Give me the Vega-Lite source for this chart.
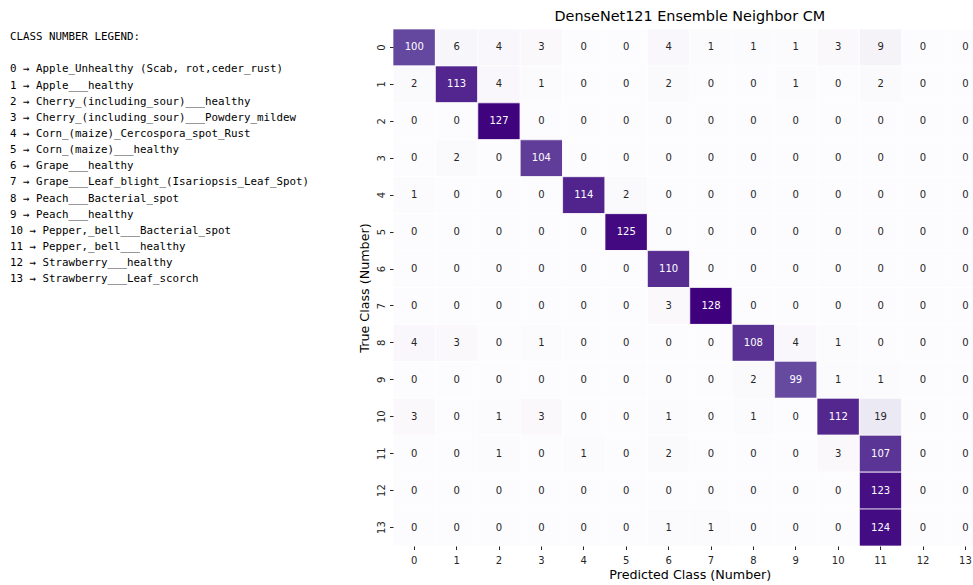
{
  "$schema": "https://vega.github.io/schema/vega-lite/v6.json",
  "padding": {"left": 10, "top": 9, "right": 0, "bottom": 0},
  "background": "white",
  "config": {
    "view": {"stroke": null},
    "font": "DejaVu Sans",
    "concat": {"spacing": 0}
  },
  "datasets": {
    "legend": [
      {"line": 0, "text": "CLASS NUMBER LEGEND:"},
      {"line": 1, "text": ""},
      {"line": 2, "text": "0 → Apple_Unhealthy (Scab, rot,ceder_rust)"},
      {"line": 3, "text": "1 → Apple___healthy"},
      {"line": 4, "text": "2 → Cherry_(including_sour)___healthy"},
      {"line": 5, "text": "3 → Cherry_(including_sour)___Powdery_mildew"},
      {"line": 6, "text": "4 → Corn_(maize)_Cercospora_spot_Rust"},
      {"line": 7, "text": "5 → Corn_(maize)___healthy"},
      {"line": 8, "text": "6 → Grape___healthy"},
      {"line": 9, "text": "7 → Grape___Leaf_blight_(Isariopsis_Leaf_Spot)"},
      {"line": 10, "text": "8 → Peach___Bacterial_spot"},
      {"line": 11, "text": "9 → Peach___healthy"},
      {"line": 12, "text": "10 → Pepper,_bell___Bacterial_spot"},
      {"line": 13, "text": "11 → Pepper,_bell___healthy"},
      {"line": 14, "text": "12 → Strawberry___healthy"},
      {"line": 15, "text": "13 → Strawberry___Leaf_scorch"}
    ],
    "cm": [
      {"t":0,"p":0,"v":100},{"t":0,"p":1,"v":6},{"t":0,"p":2,"v":4},{"t":0,"p":3,"v":3},{"t":0,"p":4,"v":0},{"t":0,"p":5,"v":0},{"t":0,"p":6,"v":4},{"t":0,"p":7,"v":1},{"t":0,"p":8,"v":1},{"t":0,"p":9,"v":1},{"t":0,"p":10,"v":3},{"t":0,"p":11,"v":9},{"t":0,"p":12,"v":0},{"t":0,"p":13,"v":0},
      {"t":1,"p":0,"v":2},{"t":1,"p":1,"v":113},{"t":1,"p":2,"v":4},{"t":1,"p":3,"v":1},{"t":1,"p":4,"v":0},{"t":1,"p":5,"v":0},{"t":1,"p":6,"v":2},{"t":1,"p":7,"v":0},{"t":1,"p":8,"v":0},{"t":1,"p":9,"v":1},{"t":1,"p":10,"v":0},{"t":1,"p":11,"v":2},{"t":1,"p":12,"v":0},{"t":1,"p":13,"v":0},
      {"t":2,"p":0,"v":0},{"t":2,"p":1,"v":0},{"t":2,"p":2,"v":127},{"t":2,"p":3,"v":0},{"t":2,"p":4,"v":0},{"t":2,"p":5,"v":0},{"t":2,"p":6,"v":0},{"t":2,"p":7,"v":0},{"t":2,"p":8,"v":0},{"t":2,"p":9,"v":0},{"t":2,"p":10,"v":0},{"t":2,"p":11,"v":0},{"t":2,"p":12,"v":0},{"t":2,"p":13,"v":0},
      {"t":3,"p":0,"v":0},{"t":3,"p":1,"v":2},{"t":3,"p":2,"v":0},{"t":3,"p":3,"v":104},{"t":3,"p":4,"v":0},{"t":3,"p":5,"v":0},{"t":3,"p":6,"v":0},{"t":3,"p":7,"v":0},{"t":3,"p":8,"v":0},{"t":3,"p":9,"v":0},{"t":3,"p":10,"v":0},{"t":3,"p":11,"v":0},{"t":3,"p":12,"v":0},{"t":3,"p":13,"v":0},
      {"t":4,"p":0,"v":1},{"t":4,"p":1,"v":0},{"t":4,"p":2,"v":0},{"t":4,"p":3,"v":0},{"t":4,"p":4,"v":114},{"t":4,"p":5,"v":2},{"t":4,"p":6,"v":0},{"t":4,"p":7,"v":0},{"t":4,"p":8,"v":0},{"t":4,"p":9,"v":0},{"t":4,"p":10,"v":0},{"t":4,"p":11,"v":0},{"t":4,"p":12,"v":0},{"t":4,"p":13,"v":0},
      {"t":5,"p":0,"v":0},{"t":5,"p":1,"v":0},{"t":5,"p":2,"v":0},{"t":5,"p":3,"v":0},{"t":5,"p":4,"v":0},{"t":5,"p":5,"v":125},{"t":5,"p":6,"v":0},{"t":5,"p":7,"v":0},{"t":5,"p":8,"v":0},{"t":5,"p":9,"v":0},{"t":5,"p":10,"v":0},{"t":5,"p":11,"v":0},{"t":5,"p":12,"v":0},{"t":5,"p":13,"v":0},
      {"t":6,"p":0,"v":0},{"t":6,"p":1,"v":0},{"t":6,"p":2,"v":0},{"t":6,"p":3,"v":0},{"t":6,"p":4,"v":0},{"t":6,"p":5,"v":0},{"t":6,"p":6,"v":110},{"t":6,"p":7,"v":0},{"t":6,"p":8,"v":0},{"t":6,"p":9,"v":0},{"t":6,"p":10,"v":0},{"t":6,"p":11,"v":0},{"t":6,"p":12,"v":0},{"t":6,"p":13,"v":0},
      {"t":7,"p":0,"v":0},{"t":7,"p":1,"v":0},{"t":7,"p":2,"v":0},{"t":7,"p":3,"v":0},{"t":7,"p":4,"v":0},{"t":7,"p":5,"v":0},{"t":7,"p":6,"v":3},{"t":7,"p":7,"v":128},{"t":7,"p":8,"v":0},{"t":7,"p":9,"v":0},{"t":7,"p":10,"v":0},{"t":7,"p":11,"v":0},{"t":7,"p":12,"v":0},{"t":7,"p":13,"v":0},
      {"t":8,"p":0,"v":4},{"t":8,"p":1,"v":3},{"t":8,"p":2,"v":0},{"t":8,"p":3,"v":1},{"t":8,"p":4,"v":0},{"t":8,"p":5,"v":0},{"t":8,"p":6,"v":0},{"t":8,"p":7,"v":0},{"t":8,"p":8,"v":108},{"t":8,"p":9,"v":4},{"t":8,"p":10,"v":1},{"t":8,"p":11,"v":0},{"t":8,"p":12,"v":0},{"t":8,"p":13,"v":0},
      {"t":9,"p":0,"v":0},{"t":9,"p":1,"v":0},{"t":9,"p":2,"v":0},{"t":9,"p":3,"v":0},{"t":9,"p":4,"v":0},{"t":9,"p":5,"v":0},{"t":9,"p":6,"v":0},{"t":9,"p":7,"v":0},{"t":9,"p":8,"v":2},{"t":9,"p":9,"v":99},{"t":9,"p":10,"v":1},{"t":9,"p":11,"v":1},{"t":9,"p":12,"v":0},{"t":9,"p":13,"v":0},
      {"t":10,"p":0,"v":3},{"t":10,"p":1,"v":0},{"t":10,"p":2,"v":1},{"t":10,"p":3,"v":3},{"t":10,"p":4,"v":0},{"t":10,"p":5,"v":0},{"t":10,"p":6,"v":1},{"t":10,"p":7,"v":0},{"t":10,"p":8,"v":1},{"t":10,"p":9,"v":0},{"t":10,"p":10,"v":112},{"t":10,"p":11,"v":19},{"t":10,"p":12,"v":0},{"t":10,"p":13,"v":0},
      {"t":11,"p":0,"v":0},{"t":11,"p":1,"v":0},{"t":11,"p":2,"v":1},{"t":11,"p":3,"v":0},{"t":11,"p":4,"v":1},{"t":11,"p":5,"v":0},{"t":11,"p":6,"v":2},{"t":11,"p":7,"v":0},{"t":11,"p":8,"v":0},{"t":11,"p":9,"v":0},{"t":11,"p":10,"v":3},{"t":11,"p":11,"v":107},{"t":11,"p":12,"v":0},{"t":11,"p":13,"v":0},
      {"t":12,"p":0,"v":0},{"t":12,"p":1,"v":0},{"t":12,"p":2,"v":0},{"t":12,"p":3,"v":0},{"t":12,"p":4,"v":0},{"t":12,"p":5,"v":0},{"t":12,"p":6,"v":0},{"t":12,"p":7,"v":0},{"t":12,"p":8,"v":0},{"t":12,"p":9,"v":0},{"t":12,"p":10,"v":0},{"t":12,"p":11,"v":123},{"t":12,"p":12,"v":0},{"t":12,"p":13,"v":0},
      {"t":13,"p":0,"v":0},{"t":13,"p":1,"v":0},{"t":13,"p":2,"v":0},{"t":13,"p":3,"v":0},{"t":13,"p":4,"v":0},{"t":13,"p":5,"v":0},{"t":13,"p":6,"v":1},{"t":13,"p":7,"v":1},{"t":13,"p":8,"v":0},{"t":13,"p":9,"v":0},{"t":13,"p":10,"v":0},{"t":13,"p":11,"v":124},{"t":13,"p":12,"v":0},{"t":13,"p":13,"v":0}
    ]
  },
  "hconcat": [
    {
      "width": 348,
      "height": 258.4,
      "data": {"name": "legend"},
      "mark": {"type": "text", "align": "left", "baseline": "middle", "font": "DejaVu Sans Mono", "fontSize": 10.8, "color": "#000000"},
      "encoding": {
        "x": {"datum": 0, "type": "quantitative", "scale": {"domain": [0, 1]}, "axis": null},
        "y": {"field": "line", "type": "ordinal", "scale": {"paddingInner": 0, "paddingOuter": 0}, "axis": null},
        "text": {"field": "text"}
      }
    },
    {
      "width": 593.6,
      "height": 517,
      "title": {"text": "DenseNet121 Ensemble Neighbor CM", "fontSize": 14.4, "fontWeight": "normal", "color": "#000000", "font": "DejaVu Sans", "offset": 4},
      "data": {"name": "cm"},
      "encoding": {
        "x": {"field": "p", "type": "ordinal", "title": "Predicted Class (Number)",
          "scale": {"paddingInner": 0, "paddingOuter": 0},
          "axis": {"labelAngle": 0, "domain": false, "tickColor": "#262626", "tickSize": 3.5, "labelFontSize": 10, "labelColor": "#262626", "titleFontSize": 12.7, "titleFontWeight": "normal", "titleColor": "#000000", "labelPadding": 6, "titlePadding": 3}},
        "y": {"field": "t", "type": "ordinal", "title": "True Class (Number)",
          "scale": {"paddingInner": 0, "paddingOuter": 0},
          "axis": {"labelAngle": -90, "domain": false, "tickColor": "#262626", "tickSize": 3.5, "labelFontSize": 10, "labelColor": "#262626", "titleFontSize": 12.7, "titleFontWeight": "normal", "titleColor": "#000000", "labelPadding": 3, "titlePadding": 5}}
      },
      "layer": [
        {
          "mark": {"type": "rect", "stroke": "white", "strokeWidth": 0.7},
          "encoding": {
            "color": {"field": "v", "type": "quantitative", "scale": {"domain": [0, 16, 32, 48, 64, 80, 96, 112, 128], "range": ["#fcfbfd", "#efedf5", "#dadaeb", "#bcbddc", "#9e9ac8", "#807dba", "#6a51a3", "#54278f", "#3f007d"]}, "legend": null}
          }
        },
        {
          "mark": {"type": "text", "fontSize": 10, "font": "DejaVu Sans"},
          "encoding": {
            "text": {"field": "v", "type": "quantitative"},
            "color": {"condition": {"test": "datum.v > 60", "value": "#ffffff"}, "value": "#262626"}
          }
        }
      ]
    }
  ]
}
